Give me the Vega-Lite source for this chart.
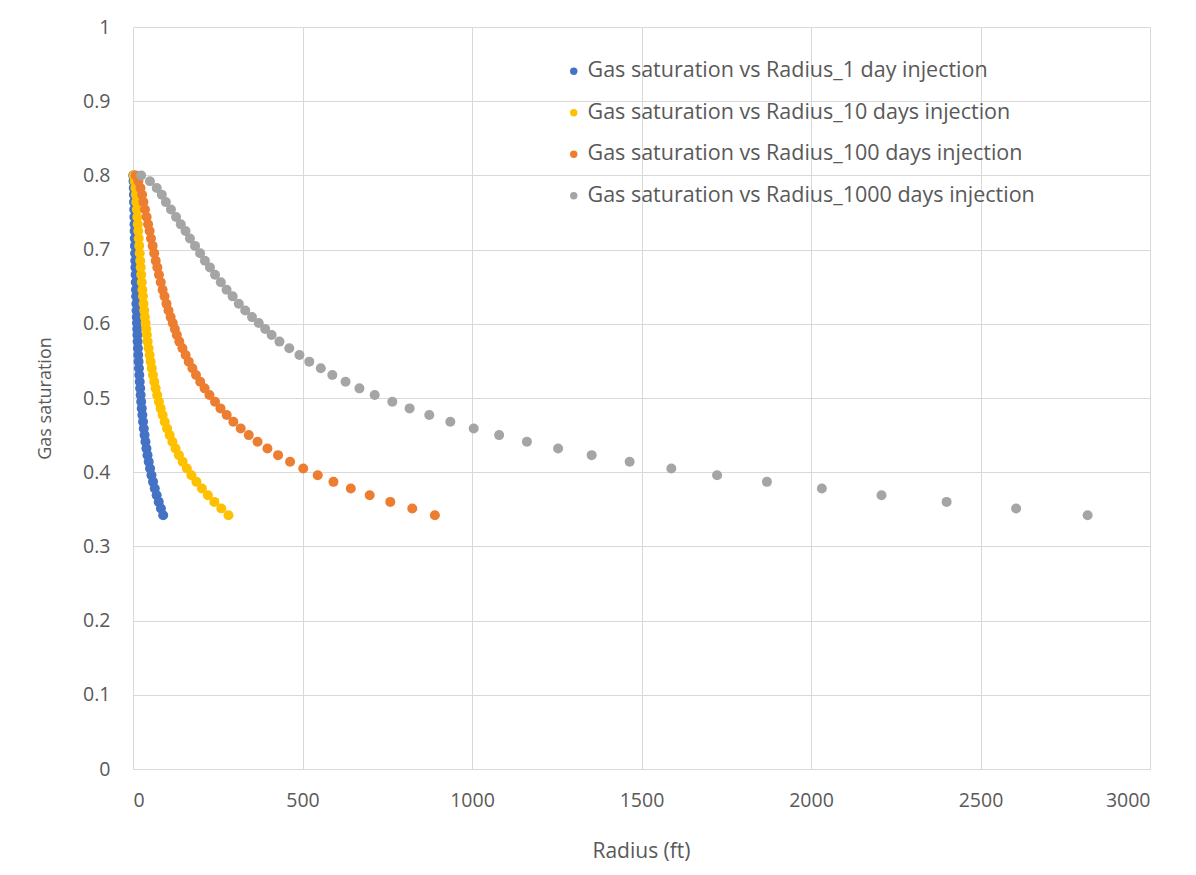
{
  "$schema": "https://vega.github.io/schema/vega-lite/v6.json",
  "width": 1017,
  "height": 742,
  "autosize": {"type": "none"},
  "padding": {"left": 133, "top": 27, "right": 46, "bottom": 106},
  "background": "white",
  "config": {
    "view": {"stroke": null},
    "font": "Open Sans"
  },
  "datasets": {
    "pts": [
      {"series": "Gas saturation vs Radius_1 day injection", "r": 0.76, "sg": 0.800},
      {"series": "Gas saturation vs Radius_1 day injection", "r": 1.58, "sg": 0.792},
      {"series": "Gas saturation vs Radius_1 day injection", "r": 2.21, "sg": 0.783},
      {"series": "Gas saturation vs Radius_1 day injection", "r": 2.69, "sg": 0.774},
      {"series": "Gas saturation vs Radius_1 day injection", "r": 3.07, "sg": 0.764},
      {"series": "Gas saturation vs Radius_1 day injection", "r": 3.54, "sg": 0.754},
      {"series": "Gas saturation vs Radius_1 day injection", "r": 4.02, "sg": 0.744},
      {"series": "Gas saturation vs Radius_1 day injection", "r": 4.46, "sg": 0.734},
      {"series": "Gas saturation vs Radius_1 day injection", "r": 4.90, "sg": 0.725},
      {"series": "Gas saturation vs Radius_1 day injection", "r": 5.31, "sg": 0.715},
      {"series": "Gas saturation vs Radius_1 day injection", "r": 5.79, "sg": 0.705},
      {"series": "Gas saturation vs Radius_1 day injection", "r": 6.26, "sg": 0.695},
      {"series": "Gas saturation vs Radius_1 day injection", "r": 6.70, "sg": 0.685},
      {"series": "Gas saturation vs Radius_1 day injection", "r": 7.18, "sg": 0.676},
      {"series": "Gas saturation vs Radius_1 day injection", "r": 7.65, "sg": 0.666},
      {"series": "Gas saturation vs Radius_1 day injection", "r": 8.19, "sg": 0.656},
      {"series": "Gas saturation vs Radius_1 day injection", "r": 8.73, "sg": 0.646},
      {"series": "Gas saturation vs Radius_1 day injection", "r": 9.30, "sg": 0.637},
      {"series": "Gas saturation vs Radius_1 day injection", "r": 9.87, "sg": 0.627},
      {"series": "Gas saturation vs Radius_1 day injection", "r": 10.47, "sg": 0.618},
      {"series": "Gas saturation vs Radius_1 day injection", "r": 11.10, "sg": 0.609},
      {"series": "Gas saturation vs Radius_1 day injection", "r": 11.73, "sg": 0.601},
      {"series": "Gas saturation vs Radius_1 day injection", "r": 12.33, "sg": 0.593},
      {"series": "Gas saturation vs Radius_1 day injection", "r": 12.93, "sg": 0.585},
      {"series": "Gas saturation vs Radius_1 day injection", "r": 13.66, "sg": 0.576},
      {"series": "Gas saturation vs Radius_1 day injection", "r": 14.58, "sg": 0.567},
      {"series": "Gas saturation vs Radius_1 day injection", "r": 15.53, "sg": 0.558},
      {"series": "Gas saturation vs Radius_1 day injection", "r": 16.44, "sg": 0.549},
      {"series": "Gas saturation vs Radius_1 day injection", "r": 17.52, "sg": 0.540},
      {"series": "Gas saturation vs Radius_1 day injection", "r": 18.59, "sg": 0.531},
      {"series": "Gas saturation vs Radius_1 day injection", "r": 19.83, "sg": 0.522},
      {"series": "Gas saturation vs Radius_1 day injection", "r": 21.12, "sg": 0.513},
      {"series": "Gas saturation vs Radius_1 day injection", "r": 22.55, "sg": 0.504},
      {"series": "Gas saturation vs Radius_1 day injection", "r": 24.19, "sg": 0.495},
      {"series": "Gas saturation vs Radius_1 day injection", "r": 25.80, "sg": 0.486},
      {"series": "Gas saturation vs Radius_1 day injection", "r": 27.64, "sg": 0.477},
      {"series": "Gas saturation vs Radius_1 day injection", "r": 29.60, "sg": 0.468},
      {"series": "Gas saturation vs Radius_1 day injection", "r": 31.78, "sg": 0.459},
      {"series": "Gas saturation vs Radius_1 day injection", "r": 34.15, "sg": 0.450},
      {"series": "Gas saturation vs Radius_1 day injection", "r": 36.74, "sg": 0.441},
      {"series": "Gas saturation vs Radius_1 day injection", "r": 39.65, "sg": 0.432},
      {"series": "Gas saturation vs Radius_1 day injection", "r": 42.78, "sg": 0.423},
      {"series": "Gas saturation vs Radius_1 day injection", "r": 46.33, "sg": 0.414},
      {"series": "Gas saturation vs Radius_1 day injection", "r": 50.22, "sg": 0.405},
      {"series": "Gas saturation vs Radius_1 day injection", "r": 54.49, "sg": 0.396},
      {"series": "Gas saturation vs Radius_1 day injection", "r": 59.13, "sg": 0.387},
      {"series": "Gas saturation vs Radius_1 day injection", "r": 64.25, "sg": 0.378},
      {"series": "Gas saturation vs Radius_1 day injection", "r": 69.82, "sg": 0.369},
      {"series": "Gas saturation vs Radius_1 day injection", "r": 75.89, "sg": 0.360},
      {"series": "Gas saturation vs Radius_1 day injection", "r": 82.38, "sg": 0.351},
      {"series": "Gas saturation vs Radius_1 day injection", "r": 89.05, "sg": 0.342},
      {"series": "Gas saturation vs Radius_10 days injection", "r": 2.4, "sg": 0.800},
      {"series": "Gas saturation vs Radius_10 days injection", "r": 5.0, "sg": 0.792},
      {"series": "Gas saturation vs Radius_10 days injection", "r": 7.0, "sg": 0.783},
      {"series": "Gas saturation vs Radius_10 days injection", "r": 8.5, "sg": 0.774},
      {"series": "Gas saturation vs Radius_10 days injection", "r": 9.7, "sg": 0.764},
      {"series": "Gas saturation vs Radius_10 days injection", "r": 11.2, "sg": 0.754},
      {"series": "Gas saturation vs Radius_10 days injection", "r": 12.7, "sg": 0.744},
      {"series": "Gas saturation vs Radius_10 days injection", "r": 14.1, "sg": 0.734},
      {"series": "Gas saturation vs Radius_10 days injection", "r": 15.5, "sg": 0.725},
      {"series": "Gas saturation vs Radius_10 days injection", "r": 16.8, "sg": 0.715},
      {"series": "Gas saturation vs Radius_10 days injection", "r": 18.3, "sg": 0.705},
      {"series": "Gas saturation vs Radius_10 days injection", "r": 19.8, "sg": 0.695},
      {"series": "Gas saturation vs Radius_10 days injection", "r": 21.2, "sg": 0.685},
      {"series": "Gas saturation vs Radius_10 days injection", "r": 22.7, "sg": 0.676},
      {"series": "Gas saturation vs Radius_10 days injection", "r": 24.2, "sg": 0.666},
      {"series": "Gas saturation vs Radius_10 days injection", "r": 25.9, "sg": 0.656},
      {"series": "Gas saturation vs Radius_10 days injection", "r": 27.6, "sg": 0.646},
      {"series": "Gas saturation vs Radius_10 days injection", "r": 29.4, "sg": 0.637},
      {"series": "Gas saturation vs Radius_10 days injection", "r": 31.2, "sg": 0.627},
      {"series": "Gas saturation vs Radius_10 days injection", "r": 33.1, "sg": 0.618},
      {"series": "Gas saturation vs Radius_10 days injection", "r": 35.1, "sg": 0.609},
      {"series": "Gas saturation vs Radius_10 days injection", "r": 37.1, "sg": 0.601},
      {"series": "Gas saturation vs Radius_10 days injection", "r": 39.0, "sg": 0.593},
      {"series": "Gas saturation vs Radius_10 days injection", "r": 40.9, "sg": 0.585},
      {"series": "Gas saturation vs Radius_10 days injection", "r": 43.2, "sg": 0.576},
      {"series": "Gas saturation vs Radius_10 days injection", "r": 46.1, "sg": 0.567},
      {"series": "Gas saturation vs Radius_10 days injection", "r": 49.1, "sg": 0.558},
      {"series": "Gas saturation vs Radius_10 days injection", "r": 52.0, "sg": 0.549},
      {"series": "Gas saturation vs Radius_10 days injection", "r": 55.4, "sg": 0.540},
      {"series": "Gas saturation vs Radius_10 days injection", "r": 58.8, "sg": 0.531},
      {"series": "Gas saturation vs Radius_10 days injection", "r": 62.7, "sg": 0.522},
      {"series": "Gas saturation vs Radius_10 days injection", "r": 66.8, "sg": 0.513},
      {"series": "Gas saturation vs Radius_10 days injection", "r": 71.3, "sg": 0.504},
      {"series": "Gas saturation vs Radius_10 days injection", "r": 76.5, "sg": 0.495},
      {"series": "Gas saturation vs Radius_10 days injection", "r": 81.6, "sg": 0.486},
      {"series": "Gas saturation vs Radius_10 days injection", "r": 87.4, "sg": 0.477},
      {"series": "Gas saturation vs Radius_10 days injection", "r": 93.6, "sg": 0.468},
      {"series": "Gas saturation vs Radius_10 days injection", "r": 100.5, "sg": 0.459},
      {"series": "Gas saturation vs Radius_10 days injection", "r": 108.0, "sg": 0.450},
      {"series": "Gas saturation vs Radius_10 days injection", "r": 116.2, "sg": 0.441},
      {"series": "Gas saturation vs Radius_10 days injection", "r": 125.4, "sg": 0.432},
      {"series": "Gas saturation vs Radius_10 days injection", "r": 135.3, "sg": 0.423},
      {"series": "Gas saturation vs Radius_10 days injection", "r": 146.5, "sg": 0.414},
      {"series": "Gas saturation vs Radius_10 days injection", "r": 158.8, "sg": 0.405},
      {"series": "Gas saturation vs Radius_10 days injection", "r": 172.3, "sg": 0.396},
      {"series": "Gas saturation vs Radius_10 days injection", "r": 187.0, "sg": 0.387},
      {"series": "Gas saturation vs Radius_10 days injection", "r": 203.2, "sg": 0.378},
      {"series": "Gas saturation vs Radius_10 days injection", "r": 220.8, "sg": 0.369},
      {"series": "Gas saturation vs Radius_10 days injection", "r": 240.0, "sg": 0.360},
      {"series": "Gas saturation vs Radius_10 days injection", "r": 260.5, "sg": 0.351},
      {"series": "Gas saturation vs Radius_10 days injection", "r": 281.6, "sg": 0.342},
      {"series": "Gas saturation vs Radius_100 days injection", "r": 7.6, "sg": 0.800},
      {"series": "Gas saturation vs Radius_100 days injection", "r": 15.8, "sg": 0.792},
      {"series": "Gas saturation vs Radius_100 days injection", "r": 22.1, "sg": 0.783},
      {"series": "Gas saturation vs Radius_100 days injection", "r": 26.9, "sg": 0.774},
      {"series": "Gas saturation vs Radius_100 days injection", "r": 30.7, "sg": 0.764},
      {"series": "Gas saturation vs Radius_100 days injection", "r": 35.4, "sg": 0.754},
      {"series": "Gas saturation vs Radius_100 days injection", "r": 40.2, "sg": 0.744},
      {"series": "Gas saturation vs Radius_100 days injection", "r": 44.6, "sg": 0.734},
      {"series": "Gas saturation vs Radius_100 days injection", "r": 49.0, "sg": 0.725},
      {"series": "Gas saturation vs Radius_100 days injection", "r": 53.1, "sg": 0.715},
      {"series": "Gas saturation vs Radius_100 days injection", "r": 57.9, "sg": 0.705},
      {"series": "Gas saturation vs Radius_100 days injection", "r": 62.6, "sg": 0.695},
      {"series": "Gas saturation vs Radius_100 days injection", "r": 67.0, "sg": 0.685},
      {"series": "Gas saturation vs Radius_100 days injection", "r": 71.8, "sg": 0.676},
      {"series": "Gas saturation vs Radius_100 days injection", "r": 76.5, "sg": 0.666},
      {"series": "Gas saturation vs Radius_100 days injection", "r": 81.9, "sg": 0.656},
      {"series": "Gas saturation vs Radius_100 days injection", "r": 87.3, "sg": 0.646},
      {"series": "Gas saturation vs Radius_100 days injection", "r": 93.0, "sg": 0.637},
      {"series": "Gas saturation vs Radius_100 days injection", "r": 98.7, "sg": 0.627},
      {"series": "Gas saturation vs Radius_100 days injection", "r": 104.7, "sg": 0.618},
      {"series": "Gas saturation vs Radius_100 days injection", "r": 111.0, "sg": 0.609},
      {"series": "Gas saturation vs Radius_100 days injection", "r": 117.3, "sg": 0.601},
      {"series": "Gas saturation vs Radius_100 days injection", "r": 123.3, "sg": 0.593},
      {"series": "Gas saturation vs Radius_100 days injection", "r": 129.3, "sg": 0.585},
      {"series": "Gas saturation vs Radius_100 days injection", "r": 136.6, "sg": 0.576},
      {"series": "Gas saturation vs Radius_100 days injection", "r": 145.8, "sg": 0.567},
      {"series": "Gas saturation vs Radius_100 days injection", "r": 155.3, "sg": 0.558},
      {"series": "Gas saturation vs Radius_100 days injection", "r": 164.4, "sg": 0.549},
      {"series": "Gas saturation vs Radius_100 days injection", "r": 175.2, "sg": 0.540},
      {"series": "Gas saturation vs Radius_100 days injection", "r": 185.9, "sg": 0.531},
      {"series": "Gas saturation vs Radius_100 days injection", "r": 198.3, "sg": 0.522},
      {"series": "Gas saturation vs Radius_100 days injection", "r": 211.2, "sg": 0.513},
      {"series": "Gas saturation vs Radius_100 days injection", "r": 225.5, "sg": 0.504},
      {"series": "Gas saturation vs Radius_100 days injection", "r": 241.9, "sg": 0.495},
      {"series": "Gas saturation vs Radius_100 days injection", "r": 258.0, "sg": 0.486},
      {"series": "Gas saturation vs Radius_100 days injection", "r": 276.4, "sg": 0.477},
      {"series": "Gas saturation vs Radius_100 days injection", "r": 296.0, "sg": 0.468},
      {"series": "Gas saturation vs Radius_100 days injection", "r": 317.8, "sg": 0.459},
      {"series": "Gas saturation vs Radius_100 days injection", "r": 341.5, "sg": 0.450},
      {"series": "Gas saturation vs Radius_100 days injection", "r": 367.4, "sg": 0.441},
      {"series": "Gas saturation vs Radius_100 days injection", "r": 396.5, "sg": 0.432},
      {"series": "Gas saturation vs Radius_100 days injection", "r": 427.8, "sg": 0.423},
      {"series": "Gas saturation vs Radius_100 days injection", "r": 463.3, "sg": 0.414},
      {"series": "Gas saturation vs Radius_100 days injection", "r": 502.2, "sg": 0.405},
      {"series": "Gas saturation vs Radius_100 days injection", "r": 544.9, "sg": 0.396},
      {"series": "Gas saturation vs Radius_100 days injection", "r": 591.3, "sg": 0.387},
      {"series": "Gas saturation vs Radius_100 days injection", "r": 642.5, "sg": 0.378},
      {"series": "Gas saturation vs Radius_100 days injection", "r": 698.2, "sg": 0.369},
      {"series": "Gas saturation vs Radius_100 days injection", "r": 758.9, "sg": 0.360},
      {"series": "Gas saturation vs Radius_100 days injection", "r": 823.8, "sg": 0.351},
      {"series": "Gas saturation vs Radius_100 days injection", "r": 890.5, "sg": 0.342},
      {"series": "Gas saturation vs Radius_1000 days injection", "r": 24, "sg": 0.800},
      {"series": "Gas saturation vs Radius_1000 days injection", "r": 50, "sg": 0.792},
      {"series": "Gas saturation vs Radius_1000 days injection", "r": 70, "sg": 0.783},
      {"series": "Gas saturation vs Radius_1000 days injection", "r": 85, "sg": 0.774},
      {"series": "Gas saturation vs Radius_1000 days injection", "r": 97, "sg": 0.764},
      {"series": "Gas saturation vs Radius_1000 days injection", "r": 112, "sg": 0.754},
      {"series": "Gas saturation vs Radius_1000 days injection", "r": 127, "sg": 0.744},
      {"series": "Gas saturation vs Radius_1000 days injection", "r": 141, "sg": 0.734},
      {"series": "Gas saturation vs Radius_1000 days injection", "r": 155, "sg": 0.725},
      {"series": "Gas saturation vs Radius_1000 days injection", "r": 168, "sg": 0.715},
      {"series": "Gas saturation vs Radius_1000 days injection", "r": 183, "sg": 0.705},
      {"series": "Gas saturation vs Radius_1000 days injection", "r": 198, "sg": 0.695},
      {"series": "Gas saturation vs Radius_1000 days injection", "r": 212, "sg": 0.685},
      {"series": "Gas saturation vs Radius_1000 days injection", "r": 227, "sg": 0.676},
      {"series": "Gas saturation vs Radius_1000 days injection", "r": 242, "sg": 0.666},
      {"series": "Gas saturation vs Radius_1000 days injection", "r": 259, "sg": 0.656},
      {"series": "Gas saturation vs Radius_1000 days injection", "r": 276, "sg": 0.646},
      {"series": "Gas saturation vs Radius_1000 days injection", "r": 294, "sg": 0.637},
      {"series": "Gas saturation vs Radius_1000 days injection", "r": 312, "sg": 0.627},
      {"series": "Gas saturation vs Radius_1000 days injection", "r": 331, "sg": 0.618},
      {"series": "Gas saturation vs Radius_1000 days injection", "r": 351, "sg": 0.609},
      {"series": "Gas saturation vs Radius_1000 days injection", "r": 371, "sg": 0.601},
      {"series": "Gas saturation vs Radius_1000 days injection", "r": 390, "sg": 0.593},
      {"series": "Gas saturation vs Radius_1000 days injection", "r": 409, "sg": 0.585},
      {"series": "Gas saturation vs Radius_1000 days injection", "r": 432, "sg": 0.576},
      {"series": "Gas saturation vs Radius_1000 days injection", "r": 461, "sg": 0.567},
      {"series": "Gas saturation vs Radius_1000 days injection", "r": 491, "sg": 0.558},
      {"series": "Gas saturation vs Radius_1000 days injection", "r": 520, "sg": 0.549},
      {"series": "Gas saturation vs Radius_1000 days injection", "r": 554, "sg": 0.540},
      {"series": "Gas saturation vs Radius_1000 days injection", "r": 588, "sg": 0.531},
      {"series": "Gas saturation vs Radius_1000 days injection", "r": 627, "sg": 0.522},
      {"series": "Gas saturation vs Radius_1000 days injection", "r": 668, "sg": 0.513},
      {"series": "Gas saturation vs Radius_1000 days injection", "r": 713, "sg": 0.504},
      {"series": "Gas saturation vs Radius_1000 days injection", "r": 765, "sg": 0.495},
      {"series": "Gas saturation vs Radius_1000 days injection", "r": 816, "sg": 0.486},
      {"series": "Gas saturation vs Radius_1000 days injection", "r": 874, "sg": 0.477},
      {"series": "Gas saturation vs Radius_1000 days injection", "r": 936, "sg": 0.468},
      {"series": "Gas saturation vs Radius_1000 days injection", "r": 1005, "sg": 0.459},
      {"series": "Gas saturation vs Radius_1000 days injection", "r": 1080, "sg": 0.450},
      {"series": "Gas saturation vs Radius_1000 days injection", "r": 1162, "sg": 0.441},
      {"series": "Gas saturation vs Radius_1000 days injection", "r": 1254, "sg": 0.432},
      {"series": "Gas saturation vs Radius_1000 days injection", "r": 1353, "sg": 0.423},
      {"series": "Gas saturation vs Radius_1000 days injection", "r": 1465, "sg": 0.414},
      {"series": "Gas saturation vs Radius_1000 days injection", "r": 1588, "sg": 0.405},
      {"series": "Gas saturation vs Radius_1000 days injection", "r": 1723, "sg": 0.396},
      {"series": "Gas saturation vs Radius_1000 days injection", "r": 1870, "sg": 0.387},
      {"series": "Gas saturation vs Radius_1000 days injection", "r": 2032, "sg": 0.378},
      {"series": "Gas saturation vs Radius_1000 days injection", "r": 2208, "sg": 0.369},
      {"series": "Gas saturation vs Radius_1000 days injection", "r": 2400, "sg": 0.360},
      {"series": "Gas saturation vs Radius_1000 days injection", "r": 2605, "sg": 0.351},
      {"series": "Gas saturation vs Radius_1000 days injection", "r": 2816, "sg": 0.342}
    ]
  },
  "data": {"name": "pts"},
  "mark": {"type": "point", "filled": true, "opacity": 1, "size": 100, "shape": "circle"},
  "encoding": {
    "x": {
      "field": "r", "type": "quantitative",
      "scale": {"domain": [0, 3000], "nice": false, "zero": true},
      "axis": {
        "values": [0, 500, 1000, 1500, 2000, 2500, 3000],
        "format": "d",
        "title": "Radius (ft)",
        "titleX": 508, "titleY": 82, "titleBaseline": "middle", "titleAlign": "center",
        "titleFontSize": 21, "titleFontWeight": "normal", "titleColor": "#595959", "titleFont": "Open Sans",
        "labelFontSize": 19.5, "labelColor": "#595959", "labelFont": "Open Sans", "labelPadding": 22,
        "ticks": false, "domain": true, "domainColor": "#D9D9D9", "domainWidth": 1,
        "grid": true, "gridColor": "#D9D9D9", "gridWidth": 1
      }
    },
    "y": {
      "field": "sg", "type": "quantitative",
      "scale": {"domain": [0, 1], "nice": false, "zero": true},
      "axis": {
        "values": [0, 0.1, 0.2, 0.3, 0.4, 0.5, 0.6, 0.7, 0.8, 0.9, 1],
        "format": "~g",
        "title": "Gas saturation",
        "titleX": -88, "titleY": 371, "titleBaseline": "middle", "titleAlign": "center", "titleAngle": -90,
        "titleFontSize": 18, "titleFontWeight": "normal", "titleColor": "#595959", "titleFont": "Open Sans",
        "labelFontSize": 19.5, "labelColor": "#595959", "labelFont": "Open Sans", "labelPadding": 23,
        "ticks": false, "domain": false,
        "grid": true, "gridColor": "#D9D9D9", "gridWidth": 1
      }
    },
    "color": {
      "field": "series", "type": "nominal",
      "scale": {
        "domain": [
          "Gas saturation vs Radius_1 day injection",
          "Gas saturation vs Radius_10 days injection",
          "Gas saturation vs Radius_100 days injection",
          "Gas saturation vs Radius_1000 days injection"
        ],
        "range": ["#4472C4", "#FFC000", "#ED7D31", "#A5A5A5"]
      },
      "legend": {
        "title": null,
        "orient": "none",
        "legendX": 430,
        "legendY": 33.5,
        "symbolType": "circle",
        "symbolSize": 55,
        "symbolStrokeWidth": 0,
        "labelFontSize": 21.5,
        "labelFont": "Open Sans",
        "labelColor": "#595959",
        "labelOffset": 3,
        "rowPadding": 18.5,
        "labelLimit": 700
      }
    }
  }
}
